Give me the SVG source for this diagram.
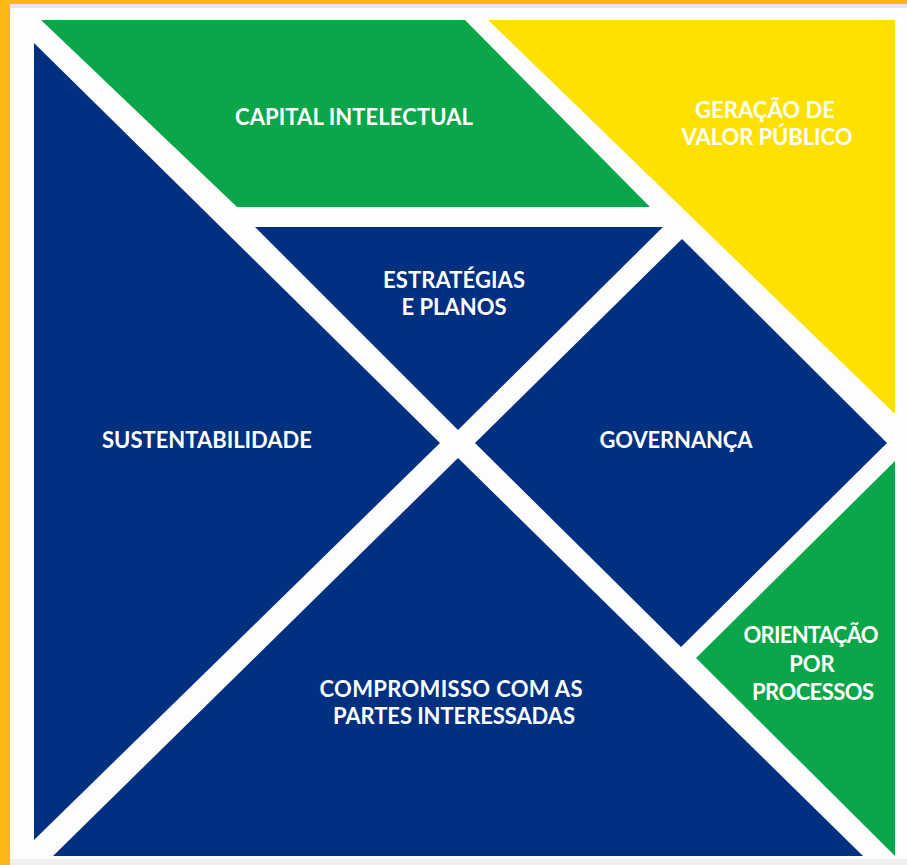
<svg xmlns="http://www.w3.org/2000/svg" width="907" height="865" viewBox="0 0 907 865">
<style>
.blue{fill:#00307f}
.green{fill:#0ca64a}
.yellow{fill:#ffe100}
.lbl{font-family:Lato,"Open Sans","Liberation Sans",sans-serif;font-weight:700;font-size:22px;fill:#ffffff;text-anchor:middle}
</style>
<rect x="0" y="0" width="907" height="865" fill="#fdfdfd"/>
<rect x="0" y="0" width="907" height="4" fill="#fdb913"/>
<rect x="10" y="4" width="897" height="4" fill="#e6e7e8"/>
<rect x="10" y="859" width="897" height="6" fill="#eef0f2"/>
<rect x="0" y="0" width="10" height="865" fill="#fdb913"/>

<g id="capital-intelectual">
<polygon class="green" points="41,20 465,20 650,207 237,207"/>
<text class="lbl" x="354" y="125" textLength="238">CAPITAL INTELECTUAL</text>
</g>
<g id="geracao-valor-publico">
<polygon class="yellow" points="488,20 895,20 895,414"/>
<text class="lbl" x="765" y="118" textLength="140">GERAÇÃO DE</text>
<text class="lbl" x="767" y="145" textLength="171">VALOR PÚBLICO</text>
</g>
<g id="estrategias-planos">
<polygon class="blue" points="255,227 663,227 458,430"/>
<text class="lbl" x="454" y="288" textLength="142">ESTRATÉGIAS</text>
<text class="lbl" x="454" y="315" textLength="105">E PLANOS</text>
</g>
<g id="sustentabilidade">
<polygon class="blue" points="34,43 440,443 34,840"/>
<text class="lbl" x="207" y="448" textLength="210">SUSTENTABILIDADE</text>
</g>
<g id="governanca">
<polygon class="blue" points="475,443 682,239 887,443 681,647"/>
<text class="lbl" x="676" y="448" textLength="153">GOVERNANÇA</text>
</g>
<g id="compromisso">
<polygon class="blue" points="458,458 863,856 53,856"/>
<text class="lbl" x="451" y="697" textLength="263">COMPROMISSO COM AS</text>
<text class="lbl" x="454" y="724" textLength="242">PARTES INTERESSADAS</text>
</g>
<g id="orientacao-processos">
<polygon class="green" points="895,461 895,856 696,658"/>
<text class="lbl" x="811" y="643" textLength="135">ORIENTAÇÃO</text>
<text class="lbl" x="812" y="672">POR</text>
<text class="lbl" x="813" y="700" textLength="122">PROCESSOS</text>
</g>
<g id="connectors"></g>
</svg>
